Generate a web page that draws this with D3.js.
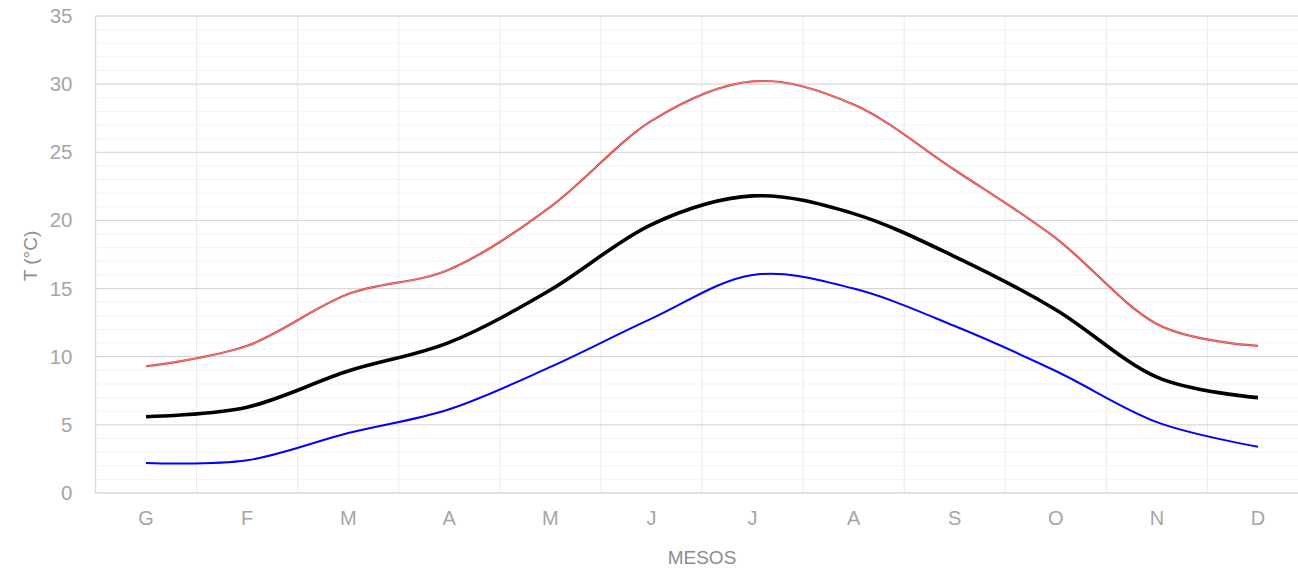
<!DOCTYPE html>
<html><head><meta charset="utf-8">
<script src="https://cdn.jsdelivr.net/npm/d3@7"></script>
<style>html,body{margin:0;padding:0;background:#fff;overflow:hidden}</style>
</head><body>
<svg id="c" width="1298" height="570"></svg>
<script>
const months = ["G","F","M","A","M","J","J","A","S","O","N","D"];
const tMax = [9.3, 10.8, 14.6, 16.4, 21.0, 27.3, 30.2, 28.5, 23.7, 18.7, 12.4, 10.8];
const tMean = [5.6, 6.3, 8.95, 11.05, 14.9, 19.7, 21.8, 20.5, 17.35, 13.45, 8.5, 7.0];
const tMin = [2.2, 2.4, 4.4, 6.15, 9.25, 12.8, 16.0, 15.0, 12.25, 8.95, 5.2, 3.4];
const yTicks = [0,5,10,15,20,25,30,35];

const svg = d3.select("#c");
const L = 95.5, R = 1308.5, T = 16, B = 493;
const x = d3.scaleBand().domain(d3.range(12)).range([L, R]);
const y = d3.scaleLinear().domain([0,35]).range([B, T]);
const cx = i => x(i) + x.bandwidth()/2;
const FONT = "'Liberation Sans', Arial, sans-serif";

// minor gridlines
const minors = d3.range(1,35).filter(v => v % 5 !== 0);
svg.append("g").selectAll("line").data(minors).join("line")
  .attr("x1", L).attr("x2", R).attr("y1", d=>y(d)).attr("y2", d=>y(d))
  .attr("stroke","#f3f3f3").attr("stroke-width",1);
// vertical gridlines
svg.append("g").selectAll("line").data(d3.range(1,12)).join("line")
  .attr("x1", d=>x(d)).attr("x2", d=>x(d)).attr("y1", T).attr("y2", B)
  .attr("stroke","#ebebeb").attr("stroke-width",1);
// major gridlines
svg.append("g").selectAll("line").data(yTicks).join("line")
  .attr("x1", L).attr("x2", R).attr("y1", d=>y(d)).attr("y2", d=>y(d))
  .attr("stroke","#d9d9d9").attr("stroke-width",1.3);
// left axis line
svg.append("line").attr("x1",L).attr("x2",L).attr("y1",T).attr("y2",B)
  .attr("stroke","#d9d9d9").attr("stroke-width",1.3);

// y axis labels
const yAxis = d3.axisLeft(y).tickValues(yTicks).tickSize(0).tickPadding(23);
const gy = svg.append("g").attr("transform",`translate(${L},0)`).call(yAxis);
gy.select(".domain").remove();
gy.selectAll("text").attr("fill","#a6a6a6").style("font-family",FONT).style("font-size","20.5px");

// x axis labels
const xAxis = d3.axisBottom(x).tickFormat(i=>months[i]).tickSize(0).tickPadding(18);
const gx = svg.append("g").attr("transform",`translate(0,${B})`).call(xAxis);
gx.select(".domain").remove();
gx.selectAll("text").attr("fill","#a6a6a6").style("font-family",FONT).style("font-size","20px");

// axis titles
svg.append("text").attr("x",702).attr("y",564).attr("text-anchor","middle")
  .attr("fill","#8c8c8c").style("font-family",FONT).style("font-size","19px").text("MESOS");
svg.append("text").attr("transform","translate(37,256) rotate(-90)").attr("text-anchor","middle")
  .attr("fill","#8c8c8c").style("font-family",FONT).style("font-size","19px").text("T (°C)");

const line = d3.line().x((d,i)=>cx(i)).y(d=>y(d)).curve(d3.curveCardinal.tension(0));

svg.append("path").datum(tMax).attr("d",line).attr("fill","none").attr("stroke","#d83a3a").attr("stroke-width",2.2);
svg.append("path").datum(tMax).attr("d",line).attr("fill","none").attr("stroke","#f2b8b8").attr("stroke-width",0.6);
svg.append("path").datum(tMin).attr("d",line).attr("fill","none").attr("stroke","#0000ff").attr("stroke-width",2);
svg.append("path").datum(tMean).attr("d",line).attr("fill","none").attr("stroke","#000").attr("stroke-width",3.6);
</script>
</body></html>
